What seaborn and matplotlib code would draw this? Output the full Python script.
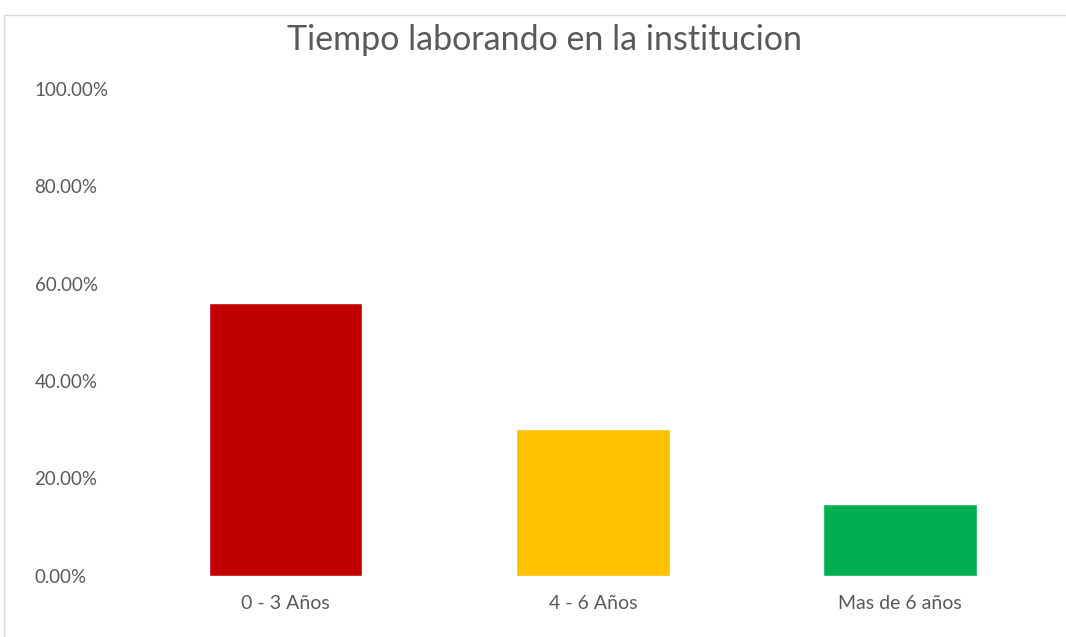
import matplotlib
matplotlib.use("Agg")
import matplotlib.pyplot as plt
import seaborn as sns
import pandas as pd
from matplotlib.patches import Rectangle
from matplotlib.ticker import FuncFormatter

categorias = ["0 - 3 Años", "4 - 6 Años", "Mas de 6 años"]
porcentajes = [0.561, 0.302, 0.147]
colores = ["#C00000", "#FFC000", "#00B050"]
ticks_y = [0.0, 0.2, 0.4, 0.6, 0.8, 1.0]

df = pd.DataFrame({"tiempo": categorias, "pct": porcentajes})

sns.set_style("white")
plt.rcParams["font.family"] = ["Lato", "DejaVu Sans"]

fig = plt.figure(figsize=(10.66, 6.37), dpi=100)
ax = fig.add_axes([0.1236, 0.0958, 0.8651, 0.7652])

sns.barplot(data=df, x="tiempo", y="pct", hue="tiempo", palette=colores,
            saturation=1, width=0.5, legend=False, ax=ax)

ax.set_ylim(0, 1.0)
ax.set_xlim(-0.5, 2.5)
ax.set_yticks(ticks_y)
ax.yaxis.set_major_formatter(FuncFormatter(lambda v, p: f"{v*100:.2f}%"))
ax.set_xlabel("")
ax.set_ylabel("")
sns.despine(ax=ax, left=True, bottom=True)
ax.tick_params(axis="y", length=0, pad=70, labelsize=13.5, labelcolor="#595959")
ax.tick_params(axis="x", length=0, pad=14, labelsize=14, labelcolor="#595959")
for lab in ax.get_yticklabels():
    lab.set_horizontalalignment("left")

fig.text(0.511, 0.937, "Tiempo laborando en la institucion", ha="center", va="center",
         fontsize=24.5, color="#595959")

# marco del grafico
fig.patches.append(Rectangle((4 / 1066, -0.05), 1.1, 1 - 15 / 637 + 0.05,
                             transform=fig.transFigure, fill=False,
                             edgecolor="#D9D9D9", linewidth=1))

fig.savefig("out.png", dpi=100, facecolor="white")
